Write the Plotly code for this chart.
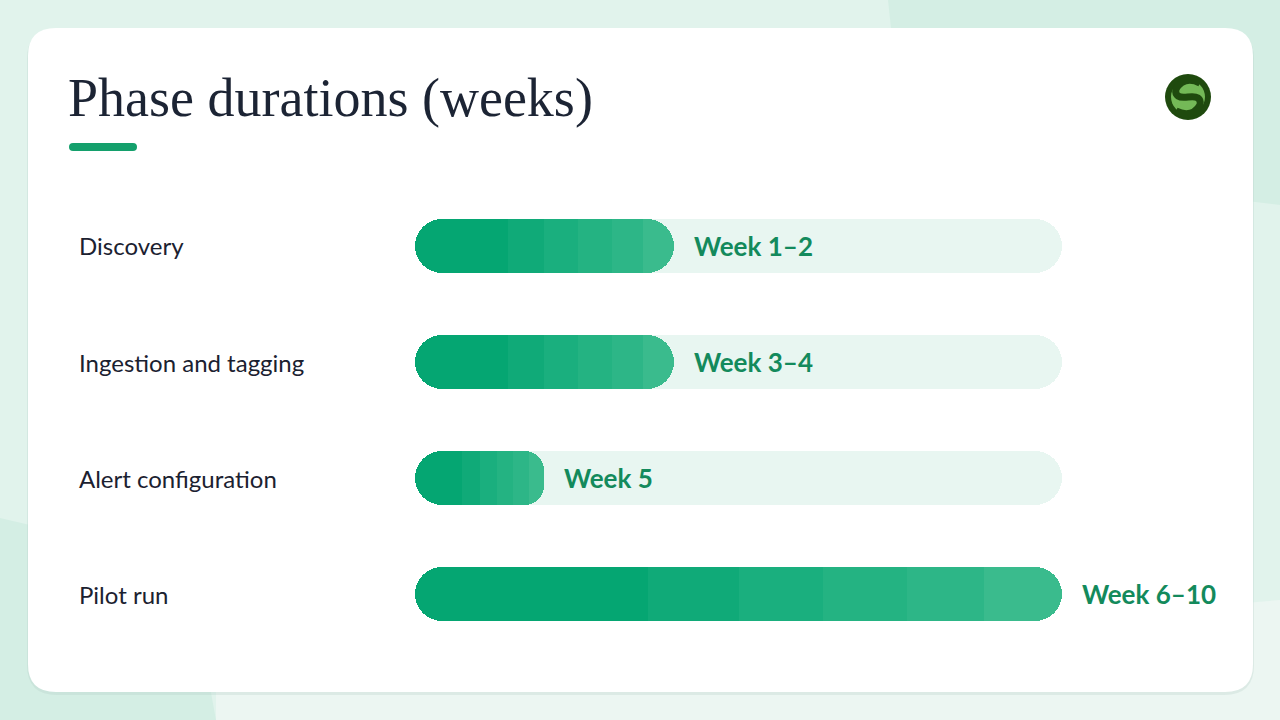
import plotly.graph_objects as go

# ---------------- data ----------------
phases = ["Discovery", "Ingestion and tagging", "Alert configuration", "Pilot run"]
durations = [2, 2, 1, 5]            # weeks
week_labels = ["Week 1\u20132", "Week 3\u20134", "Week 5", "Week 6\u201310"]
track_max = 5                        # total programme length (weeks)
title_text = "Phase durations (weeks)"

# ---------------- style ----------------
W, H = 1280, 720
BAR_W = 0.474
TRACK_COLOR = "#e8f6f1"
DARK = "#05a672"
LIGHT = "#3abb8d"
# middle gradient bands: (start frac, end frac, colour)
mid_bands = [(0.36, 0.50, "#10aa78"), (0.50, 0.63, "#1aaf7e"),
             (0.63, 0.76, "#24b382"), (0.76, 0.88, "#2db687")]
LIGHT_START = 0.70
LABEL_GREEN = "#138a5c"
TEXT_DARK = "#1b2130"
SANS = "Lato, 'Noto Sans', sans-serif"
SERIF = "'Liberation Serif', 'DejaVu Serif', serif"


def fx(x):
    return x / W


def fy(y):
    return 1 - y / H


def path_px(cmds):
    out = []
    for c, pts in cmds:
        vals = []
        for i in range(0, len(pts), 2):
            vals.append(f"{fx(pts[i]):.5f},{fy(pts[i+1]):.5f}")
        out.append(c + " " + " ".join(vals))
    return " ".join(out)


def rrect(x0, y0, x1, y1, r):
    return path_px([
        ("M", [x0 + r, y0]), ("L", [x1 - r, y0]), ("Q", [x1, y0, x1, y0 + r]),
        ("L", [x1, y1 - r]), ("Q", [x1, y1, x1 - r, y1]), ("L", [x0 + r, y1]),
        ("Q", [x0, y1, x0, y1 - r]), ("L", [x0, y0 + r]), ("Q", [x0, y0, x0 + r, y0]),
        ("Z", []),
    ])


def pill(base, length, color, radius="50%", hover=True):
    """horizontal bar drawn from base+length back to base (both ends rounded)"""
    return go.Bar(y=phases, x=[-l for l in length], base=[b + l for b, l in zip(base, length)],
                  orientation="h", width=BAR_W,
                  marker=dict(color=color, cornerradius=radius, line=dict(width=0)),
                  customdata=durations,
                  hovertemplate="%{y}: %{customdata} weeks<extra></extra>" if hover else None,
                  hoverinfo=None if hover else "skip", showlegend=False)


fig = go.Figure()
n = len(phases)
fig.add_trace(pill([0] * n, [track_max] * n, TRACK_COLOR, hover=False))
fig.add_trace(pill([0] * n, durations, DARK))
fig.add_trace(pill([d * LIGHT_START for d in durations],
                   [d * (1 - LIGHT_START) for d in durations], LIGHT))
for f0, f1, col in mid_bands:
    fig.add_trace(go.Bar(y=phases, x=[d * (f1 - f0) for d in durations],
                         base=[d * f0 for d in durations], orientation="h", width=BAR_W,
                         marker=dict(color=col, cornerradius=0, line=dict(width=0)),
                         customdata=durations,
                         hovertemplate="%{y}: %{customdata} weeks<extra></extra>",
                         showlegend=False))

annotations = []
for p, d, lab in zip(phases, durations, week_labels):
    annotations.append(dict(x=d, y=p, xref="x", yref="y", text=f"<b>{lab}</b>",
                            showarrow=False, xanchor="left", yanchor="middle",
                            xshift=18, font=dict(family=SANS, size=26, color=LABEL_GREEN)))
for p in phases:
    annotations.append(dict(x=fx(77), y=p, xref="paper", yref="y", text=p,
                            showarrow=False, xanchor="left", yanchor="middle",
                            font=dict(family=SANS, size=24, color=TEXT_DARK)))
annotations.append(dict(x=fx(66), y=fy(98), xref="paper", yref="paper", text=title_text,
                        showarrow=False, xanchor="left", yanchor="middle",
                        font=dict(family=SERIF, size=54, color="#1c2434")))

shapes = []
shapes.append(dict(type="path", xref="paper", yref="paper", layer="below",
                   path=path_px([("M", [888, 0]), ("L", [1280, 0]), ("L", [1280, 205]),
                                 ("L", [905, 160]), ("Z", [])]),
                   fillcolor="#d4eee4", line=dict(width=0)))
shapes.append(dict(type="path", xref="paper", yref="paper", layer="below",
                   path=path_px([("M", [0, 518]), ("L", [60, 532]), ("L", [205, 660]),
                                 ("L", [216, 720]), ("L", [0, 720]), ("Z", [])]),
                   fillcolor="#d4eee4", line=dict(width=0)))
shapes.append(dict(type="path", xref="paper", yref="paper", layer="below",
                   path=path_px([("M", [216, 692]), ("L", [1280, 600]), ("L", [1280, 720]),
                                 ("L", [216, 720]), ("Z", [])]),
                   fillcolor="#ecf6f2", line=dict(width=0)))
shapes.append(dict(type="path", xref="paper", yref="paper", layer="below",
                   path=rrect(27, 29, 1254, 695, 30), fillcolor="rgba(170,200,190,0.25)",
                   line=dict(width=0)))
shapes.append(dict(type="path", xref="paper", yref="paper", layer="below",
                   path=rrect(28, 28, 1253, 692, 28), fillcolor="#ffffff",
                   line=dict(width=0)))
shapes.append(dict(type="path", xref="paper", yref="paper",
                   path=rrect(69, 143, 137, 151, 4), fillcolor="#14a06c", line=dict(width=0)))
cx, cy, r = 1188, 97, 23
shapes.append(dict(type="circle", xref="paper", yref="paper",
                   x0=fx(cx - r), x1=fx(cx + r), y0=fy(cy + r), y1=fy(cy - r),
                   fillcolor="#1f4a0e", line=dict(width=0)))
ri = 17
shapes.append(dict(type="circle", xref="paper", yref="paper",
                   x0=fx(cx - ri), x1=fx(cx + ri), y0=fy(cy + ri), y1=fy(cy - ri),
                   fillcolor="#74b957", line=dict(width=0)))
shapes.append(dict(type="path", xref="paper", yref="paper",
                   path=path_px([("M", [cx + 12, cy - 14]),
                                 ("Q", [cx - 4, cy - 22, cx - 12, cy - 8]),
                                 ("Q", [cx - 14, cy + 2, cx, cy]),
                                 ("Q", [cx + 14, cy - 2, cx + 12, cy + 8]),
                                 ("Q", [cx + 4, cy + 22, cx - 12, cy + 14])]),
                   fillcolor="rgba(0,0,0,0)", line=dict(color="#1f4a0e", width=7)))

fig.update_layout(
    width=W, height=H,
    margin=dict(l=0, r=0, t=0, b=0),
    paper_bgcolor="#e1f3ec", plot_bgcolor="rgba(0,0,0,0)",
    barmode="overlay",
    bargap=0,
    xaxis=dict(domain=[fx(415), fx(1062)], range=[0, track_max], visible=False,
               fixedrange=True),
    yaxis=dict(domain=[fy(652), fy(188)], type="category", categoryorder="array",
               categoryarray=phases, range=[n - 0.5, -0.5], visible=False,
               fixedrange=True),
    annotations=annotations,
    shapes=shapes,
    showlegend=False,
)

fig.write_html("out.html", config={"displayModeBar": False},
               post_script="document.body.style.margin='0';")
